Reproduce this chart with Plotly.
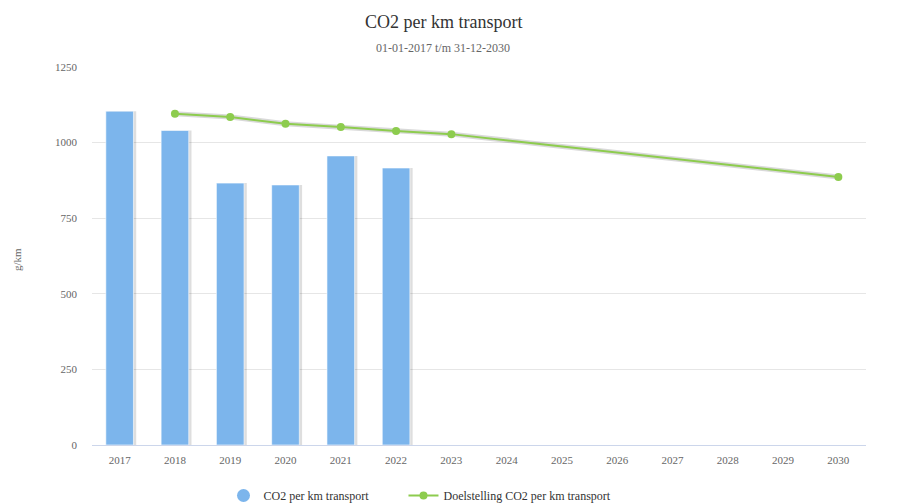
import plotly.graph_objects as go

years = [str(y) for y in range(2017, 2031)]
co2_actual = [1104, 1040, 866, 860, 956, 916, None, None, None, None, None, None, None, None]
co2_target = [None, 1095, 1085, 1062, 1052, 1038, 1028, None, None, None, None, None, None, 886]

BAR_COLOR = "#7cb5ec"
LINE_COLOR = "#8dcc4e"
FONT = "Times New Roman, Liberation Serif, DejaVu Serif, serif"

# page body adds an 8px offset, so margins are shifted to compensate
PLOT_H = 378

fig = go.Figure()
# bar shadow, nudged slightly right
fig.add_trace(go.Bar(
    x=years, y=co2_actual, showlegend=False, hoverinfo="skip",
    marker=dict(color="rgba(0,0,0,0.13)", line=dict(width=0)),
    width=0.5, offset=-0.25 + 0.05,
))
fig.add_trace(go.Bar(
    x=years, y=co2_actual, name="CO2 per km transport", showlegend=False,
    marker=dict(color=BAR_COLOR, line=dict(color="rgba(255,255,255,0.6)", width=1)),
    width=0.5, offset=-0.25,
))
# legend entry with round symbol for the bars
fig.add_trace(go.Scatter(
    x=[None], y=[None], mode="markers",
    name="CO2 per km transport" + "&nbsp;" * 10,
    marker=dict(color=BAR_COLOR, size=13, symbol="circle"),
))
# soft shadow under the target line
fig.add_trace(go.Scatter(
    x=years, y=co2_target, mode="lines", connectgaps=True,
    line=dict(color="rgba(0,0,0,0.15)", width=5), showlegend=False, hoverinfo="skip",
))
fig.add_trace(go.Scatter(
    x=years, y=co2_target, name="Doelstelling CO2 per km transport",
    mode="lines+markers", connectgaps=True,
    line=dict(color=LINE_COLOR, width=2), marker=dict(color=LINE_COLOR, size=8),
))

fig.update_layout(
    width=901, height=512,
    paper_bgcolor="white", plot_bgcolor="white",
    font=dict(family=FONT, color="#666666", size=11),
    margin=dict(l=84, r=43, t=59, b=75, autoexpand=False),
    barmode="overlay",
    showlegend=True,
    legend=dict(orientation="h", x=(412 - 84) / 774, xanchor="center",
                y=-36 / PLOT_H, yanchor="top",
                font=dict(size=12, color="#333333", family=FONT), itemwidth=30),
    xaxis=dict(range=[-0.5, 13.5], showgrid=False, showline=True, linecolor="#ccd6eb",
               linewidth=1, ticks="", tickfont=dict(size=11), automargin=False,
               ticklabelstandoff=5),
    yaxis=dict(range=[0, 1250], tickvals=[0, 250, 500, 750, 1000, 1250],
               gridcolor="#e6e6e6", zeroline=False, ticks="", automargin=False,
               ticklabelstandoff=14),
    annotations=[
        dict(text="CO2 per km transport", x=(435 - 84) / 774, y=1 + (59 - 14) / PLOT_H,
             xref="paper", yref="paper", yanchor="middle",
             showarrow=False, font=dict(size=18, color="#333333", family=FONT)),
        dict(text="01-01-2017 t/m 31-12-2030", x=(435 - 84) / 774, y=1 + (59 - 40) / PLOT_H,
             xref="paper", yref="paper", yanchor="middle",
             showarrow=False, font=dict(size=12, color="#666666", family=FONT)),
        dict(text="g/km", x=(9 - 84) / 774, y=1 - (252 - 59) / PLOT_H, xref="paper",
             yref="paper", textangle=-90, xanchor="center", yanchor="middle",
             showarrow=False, font=dict(size=11, color="#666666", family=FONT)),
    ],
)

fig.write_html("out.html")
